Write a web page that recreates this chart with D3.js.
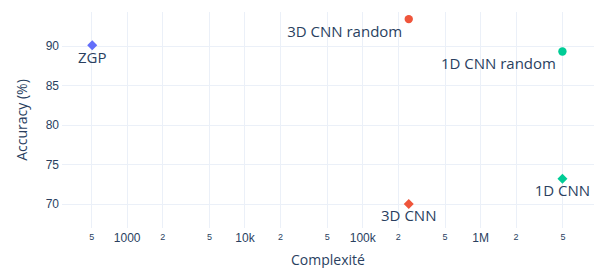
<!DOCTYPE html>
<html>
<head>
<meta charset="utf-8">
<script src="https://cdn.jsdelivr.net/npm/d3@7"></script>
<style>
  html, body { margin: 0; padding: 0; background: #fff; }
  svg { display: block; font-family: "Open Sans", sans-serif; }
  .grid line { stroke: #ebf0f8; stroke-width: 1; }
  .tick-text { fill: #2a3f5f; }
</style>
</head>
<body>
<svg id="chart" width="598" height="268"></svg>
<script>
  const names = ['ZGP', '3D CNN random', '1D CNN random', '3D CNN', '1D CNN'];
  const complexity = [510, 248000, 5000000, 248000, 5000000];
  const accuracy = [90.1, 93.4, 89.3, 70.0, 73.2];
  const groups = ['ZGP', '3D CNN', '1D CNN', '3D CNN', '1D CNN'];
  const symbols = ['diamond', 'circle', 'circle', 'diamond', 'diamond'];
  const textPos = ['bottom center', 'bottom left', 'bottom left', 'bottom center', 'bottom center'];

  const xTicks = [500, 1000, 2000, 5000, 1e4, 2e4, 5e4, 1e5, 2e5, 5e5, 1e6, 2e6, 5e6];
  const xTickLabels = ['5', '1000', '2', '5', '10k', '2', '5', '100k', '2', '5', '1M', '2', '5'];
  const yTicks = [70, 75, 80, 85, 90];

  const colors = { 'ZGP': '#636efa', '3D CNN': '#ef553b', '1D CNN': '#00cc96' };

  const MARGIN = { left: 62, right: 4, top: 12, bottom: 40 };
  const W = 598, H = 268;

  const svg = d3.select('#chart');

  const xScale = d3.scaleLog()
    .domain([Math.pow(10, 2.451), Math.pow(10, 6.967)])
    .range([MARGIN.left, W - MARGIN.right]);

  const yScale = d3.scaleLinear()
    .domain([66.96, 94.3])
    .range([H - MARGIN.bottom, MARGIN.top]);

  // grid
  const grid = svg.append('g').attr('class', 'grid');
  grid.selectAll('line.v').data(xTicks).join('line')
    .attr('class', 'v')
    .attr('x1', d => Math.round(xScale(d)) + 0.5).attr('x2', d => Math.round(xScale(d)) + 0.5)
    .attr('y1', MARGIN.top).attr('y2', H - MARGIN.bottom);
  grid.selectAll('line.h').data(yTicks).join('line')
    .attr('class', 'h')
    .attr('x1', MARGIN.left).attr('x2', W - MARGIN.right)
    .attr('y1', d => Math.round(yScale(d)) + 0.5).attr('y2', d => Math.round(yScale(d)) + 0.5);

  // x axis labels
  const xAxis = d3.axisBottom(xScale)
    .tickValues(xTicks)
    .tickFormat((d, i) => xTickLabels[i])
    .tickSize(0)
    .tickPadding(0);

  const xAxisGroup = svg.append('g')
    .attr('transform', `translate(0, ${H - MARGIN.bottom})`)
    .call(xAxis);
  xAxisGroup.select('.domain').remove();
  xAxisGroup.selectAll('.tick text')
    .attr('class', 'tick-text')
    .attr('dy', null)
    .attr('y', (d, i) => xTickLabels[i].length > 1 ? 14 : 11.5)
    .style('font-size', (d, i) => xTickLabels[i].length > 1 ? '12px' : '9px')
    .attr('fill', '#2a3f5f');

  // y axis labels
  const yAxis = d3.axisLeft(yScale)
    .tickValues(yTicks)
    .tickSize(0)
    .tickPadding(3);

  const yAxisGroup = svg.append('g')
    .attr('transform', `translate(${MARGIN.left}, 0)`)
    .call(yAxis);
  yAxisGroup.select('.domain').remove();
  yAxisGroup.selectAll('.tick text')
    .attr('class', 'tick-text')
    .style('font-size', '12px')
    .attr('fill', '#2a3f5f');

  // axis titles
  svg.append('text')
    .attr('x', (MARGIN.left + W - MARGIN.right) / 2)
    .attr('y', 265)
    .attr('text-anchor', 'middle')
    .attr('fill', '#2a3f5f')
    .style('font-size', '14px')
    .text('Complexité');

  svg.append('text')
    .attr('transform', `translate(26.5, ${(MARGIN.top + H - MARGIN.bottom) / 2}) rotate(-90)`)
    .attr('text-anchor', 'middle')
    .attr('fill', '#2a3f5f')
    .style('font-size', '14px')
    .text('Accuracy (%)');

  // points
  const points = names.map((n, i) => ({
    name: n, x: complexity[i], y: accuracy[i], group: groups[i], symbol: symbols[i], pos: textPos[i]
  }));

  const diamond = d3.symbol().type(d3.symbolDiamond2).size(64);

  const pointGroup = svg.append('g');
  points.forEach(p => {
    const px = xScale(p.x), py = yScale(p.y);
    if (p.symbol === 'circle') {
      pointGroup.append('circle')
        .attr('cx', px).attr('cy', py).attr('r', 4.2)
        .attr('fill', colors[p.group]);
    } else {
      pointGroup.append('path')
        .attr('d', diamond())
        .attr('transform', `translate(${px}, ${py})`)
        .attr('fill', colors[p.group]);
    }
    const label = pointGroup.append('text')
      .attr('fill', '#2a3f5f')
      .style('font-size', '15px')
      .attr('y', py + 17.5)
      .text(p.name);
    if (p.pos === 'bottom left') {
      label.attr('x', px - 6.5).attr('text-anchor', 'end');
    } else {
      label.attr('x', px).attr('text-anchor', 'middle');
    }
  });
</script>
</body>
</html>
